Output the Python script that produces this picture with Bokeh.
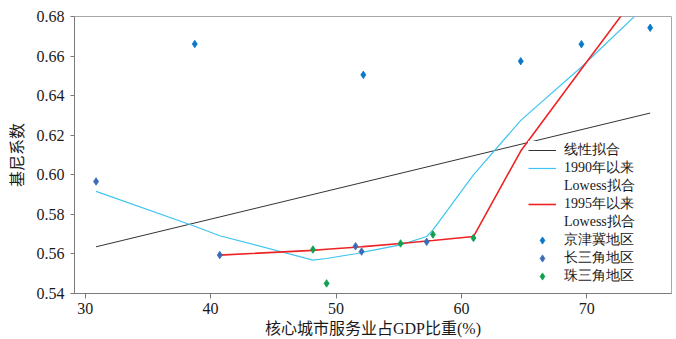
import numpy as np
from bokeh.plotting import figure
from bokeh.models import Range1d, FixedTicker, Legend, LegendItem
from bokeh.embed import file_html
from bokeh.resources import INLINE

# ---- data ----
jjj_x = [38.74, 52.18, 64.73, 69.57, 75.05]
jjj_y = [0.6661, 0.6505, 0.6574, 0.6660, 0.6743]
csj_x = [30.87, 40.73, 51.56, 52.04, 57.23]
csj_y = [0.5966, 0.5594, 0.5639, 0.5612, 0.5661]
zsj_x = [48.16, 49.25, 55.15, 57.73, 60.96]
zsj_y = [0.5622, 0.5451, 0.5653, 0.5698, 0.5681]

lin_x = [30.87, 75.05]
lin_y = [0.5636, 0.6312]

lw90_x = [30.87, 38.74, 40.73, 48.16, 49.25, 51.56, 52.04, 52.18, 55.15,
          57.23, 57.73, 60.96, 64.73, 69.57, 75.05]
lw90_y = [0.5916, 0.5740, 0.5692, 0.5569, 0.5577, 0.5601, 0.5607, 0.5609,
          0.5646, 0.5688, 0.5722, 0.6000, 0.6275, 0.6545, 0.6876]

lw95_x = [40.73, 48.16, 49.25, 51.56, 52.04, 52.18, 55.15, 57.23, 57.73,
          60.96, 64.73, 69.57, 75.05]
lw95_y = [0.5594, 0.5618, 0.5624, 0.5634, 0.5636, 0.5637, 0.5653, 0.5665,
          0.5668, 0.5688, 0.6120, 0.6535, 0.7000]

x_ticks = [30, 40, 50, 60, 70]
y_ticks = [0.54, 0.56, 0.58, 0.60, 0.62, 0.64, 0.66, 0.68]

x_label = "核心城市服务业占GDP比重(%)"
y_label = "基尼系数"
legend_labels = ["线性拟合", "1990年以来", "Lowess拟合", "1995年以来", "Lowess拟合",
                 "京津冀地区", "长三角地区", "珠三角地区"]

FONT = "Liberation Serif, Noto Sans CJK SC"
TXT = "#1a1a1a"

p = figure(width=676, height=339,
           x_range=Range1d(29.15, 76.75), y_range=Range1d(0.54, 0.68),
           output_backend="svg", toolbar_location=None,
           min_border_left=74, min_border_right=5, min_border_top=16, min_border_bottom=46,
           background_fill_color="white", border_fill_color="white")
p.outline_line_color = "#a8a8a8"
p.grid.visible = False

for ax, ticks in ((p.xaxis, x_ticks), (p.yaxis, y_ticks)):
    ax.ticker = FixedTicker(ticks=ticks)
    ax.major_label_text_font = FONT
    ax.major_label_text_font_size = "16px"
    ax.major_label_text_color = TXT
    ax.axis_label_text_font = FONT
    ax.axis_label_text_font_size = "16px"
    ax.axis_label_text_font_style = "normal"
    ax.axis_label_text_color = TXT
    ax.axis_line_color = "#7a7a7a"
    ax.major_tick_line_color = "#7a7a7a"
    ax.major_tick_in = 0
    ax.minor_tick_line_color = None

p.xaxis.major_tick_out = 5
p.xaxis.major_label_standoff = 4
p.xaxis.axis_label = x_label
p.xaxis.axis_label_standoff = 3
p.yaxis.major_tick_out = 4
p.yaxis.major_label_standoff = 6
p.yaxis.axis_label = y_label
p.yaxis.axis_label_standoff = 8
p.yaxis.major_label_overrides = {t: f"{t:.2f}" for t in y_ticks}

r_lin = p.line(lin_x, lin_y, line_color="#333333", line_width=1)
r_90 = p.line(lw90_x, lw90_y, line_color="#40c4f0", line_width=1.2)
r_95 = p.line(lw95_x, lw95_y, line_color="#ee2424", line_width=1.6)
r_blank = p.line([], [], line_alpha=0)

mk = dict(marker="diamond", size=7.5, line_width=0.8)
r_j = p.scatter(jjj_x, jjj_y, fill_color="#0a78c8", line_color="#0a78c8", **mk)
r_c = p.scatter(csj_x, csj_y, fill_color="#3a6bb8", line_color="#3a6bb8", **mk)
r_z = p.scatter(zsj_x, zsj_y, fill_color="#10a050", line_color="#10a050", **mk)

rends = [r_lin, r_90, r_blank, r_95, r_blank, r_j, r_c, r_z]
items = [LegendItem(label=l, renderers=[r]) for l, r in zip(legend_labels, rends)]
legend = Legend(items=items, location=(454, 8),
                label_text_font="Liberation Serif", label_text_font_size="14px",
                label_text_color=TXT,
                glyph_width=28, glyph_height=18, label_height=18, label_standoff=8,
                spacing=0, padding=0, margin=0,
                border_line_alpha=0, background_fill_color="white", background_fill_alpha=1)
p.add_layout(legend)

open("out.html", "w").write(file_html(p, INLINE))
